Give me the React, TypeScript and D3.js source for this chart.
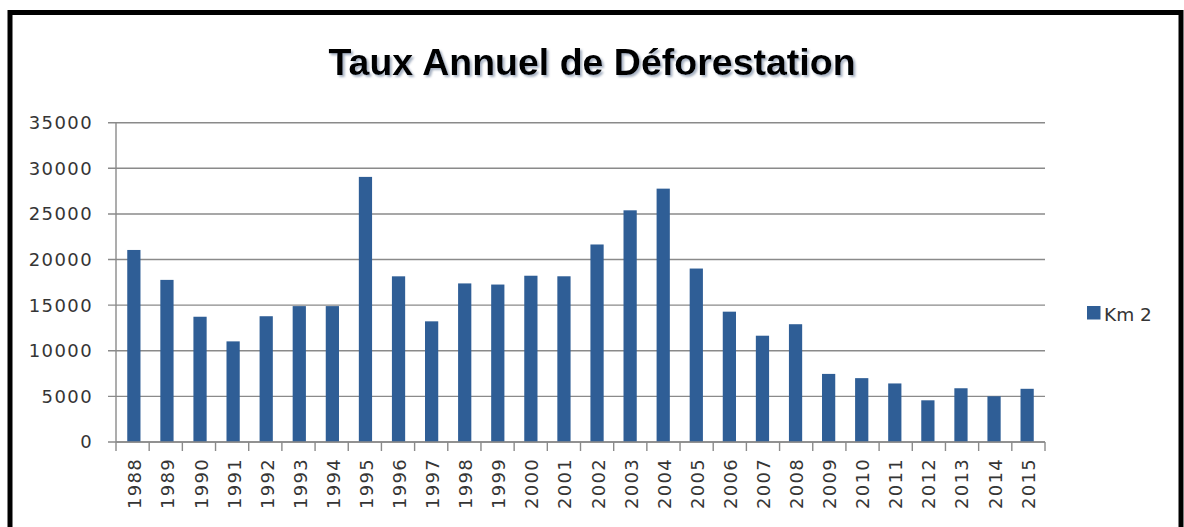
import * as d3 from 'd3';

const years = [
  '1988', '1989', '1990', '1991', '1992', '1993', '1994', '1995', '1996', '1997',
  '1998', '1999', '2000', '2001', '2002', '2003', '2004', '2005', '2006', '2007',
  '2008', '2009', '2010', '2011', '2012', '2013', '2014', '2015'
];
const km2 = [
  21050, 17770, 13730, 11030, 13786, 14896, 14896, 29059, 18161, 13227,
  17383, 17259, 18226, 18165, 21651, 25396, 27772, 19014, 14286, 11651,
  12911, 7464, 7000, 6418, 4571, 5891, 5012, 5831
];
const yTicks = [0, 5000, 10000, 15000, 20000, 25000, 30000, 35000];
const title = 'Taux Annuel de Déforestation';
const seriesName = 'Km 2';

const W = 1184;
const H = 527;
const plot = { left: 116, right: 1045, top: 122.7, bottom: 442 };
const barColor = '#2f5e96';
const gridColor = '#8a8a8a';
const textColor = '#353535';
const labelFont = '"DejaVu Sans", Verdana, sans-serif';

export default function App() {
  const x = d3.scaleBand<string>()
    .domain(years)
    .range([plot.left, plot.right])
    .paddingInner(0.6)
    .paddingOuter(0.34);
  const y = d3.scaleLinear().domain([0, 35000]).range([plot.bottom, plot.top]);

  // category boundaries for the tick marks
  const step = (plot.right - plot.left) / years.length;
  const bounds = d3.range(years.length + 1).map(i => plot.left + i * step);

  return (
    <div style={{ position: 'absolute', left: 0, top: 0 }}>
      <svg width={W} height={H} style={{ display: 'block', background: '#fff' }}>
        <defs>
          <filter id="shadow" x="-5%" y="-20%" width="110%" height="150%">
            <feDropShadow dx="2" dy="2" stdDeviation="1.2" floodColor="#8090a8" floodOpacity="0.7" />
          </filter>
        </defs>

        <rect x={10} y={12.5} width={1171} height={600} fill="#fff" stroke="#000" strokeWidth={5} />

        <text
          x={592}
          y={75}
          textAnchor="middle"
          fontFamily='"Liberation Sans", Arial, sans-serif'
          fontWeight="bold"
          fontSize={37.5}
          fill="#000"
          filter="url(#shadow)"
        >
          {title}
        </text>

        {/* gridlines + y labels */}
        {yTicks.map(t => (
          <g key={t}>
            <line
              x1={plot.left - 8}
              x2={plot.right}
              y1={y(t)}
              y2={y(t)}
              stroke={gridColor}
              strokeWidth={1.4}
            />
            <text
              x={93}
              y={y(t)}
              dy="0.36em"
              textAnchor="end"
              fontFamily={labelFont}
              fontSize={18}
              letterSpacing={1.4}
              fill={textColor}
            >
              {t}
            </text>
          </g>
        ))}

        <line x1={plot.left} x2={plot.left} y1={plot.top} y2={plot.bottom} stroke={gridColor} strokeWidth={1.4} />

        {years.map((yr, i) => (
          <rect
            key={yr}
            x={x(yr)}
            y={y(km2[i])}
            width={x.bandwidth()}
            height={plot.bottom - y(km2[i])}
            fill={barColor}
          />
        ))}

        <line x1={plot.left} x2={plot.right} y1={plot.bottom} y2={plot.bottom} stroke={gridColor} strokeWidth={1.4} />

        {bounds.map((b, i) => (
          <line key={i} x1={b} x2={b} y1={plot.bottom} y2={plot.bottom + 9} stroke={gridColor} strokeWidth={1.4} />
        ))}

        {years.map(yr => {
          const cx = (x(yr) ?? 0) + x.bandwidth() / 2 + 1;
          return (
            <text
              key={yr}
              transform={`translate(${cx},${plot.bottom + 16}) rotate(-90)`}
              dy="0.36em"
              textAnchor="end"
              fontFamily={labelFont}
              fontSize={18}
              letterSpacing={1.3}
              fill={textColor}
            >
              {yr}
            </text>
          );
        })}

        {/* legend */}
        <rect x={1087} y={306} width={13.5} height={13.5} fill={barColor} />
        <text x={1104} y={320.5} fontFamily={labelFont} fontSize={18.5} fill={textColor}>
          {seriesName}
        </text>
      </svg>
    </div>
  );
}
